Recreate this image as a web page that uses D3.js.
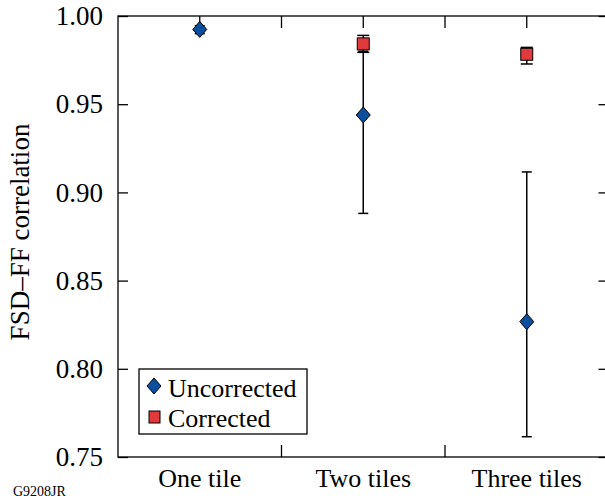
<!DOCTYPE html>
<html>
<head>
<meta charset="utf-8">
<script src="https://cdn.jsdelivr.net/npm/d3@7"></script>
<style>
  body { margin: 0; background: #fff; }
  text { font-family: "Liberation Serif", "DejaVu Serif", serif; fill: #000; }
</style>
</head>
<body>
<svg id="chart" width="605" height="500"></svg>
<script>
// data
var categories = ["One tile", "Two tiles", "Three tiles"];
var uncorrected = [0.9924, 0.9439, 0.8267];
var uncorrectedLow = [0.9900, 0.8881, 0.7615];
var uncorrectedHigh = [0.9945, 0.9800, 0.9116];
// corrected is not shown for one tile
var correctedCats = ["Two tiles", "Three tiles"];
var corrected = [0.9842, 0.9783];
var correctedLow = [0.9794, 0.9728];
var correctedHigh = [0.9890, 0.9822];
var yTicks = [0.75, 0.80, 0.85, 0.90, 0.95, 1.00];

var blue = "#0b4f9e";
var red = "#e2393d";

var plotL = 118, plotR = 608.5, plotT = 16, plotB = 457;

var svg = d3.select("#chart");

var x = d3.scalePoint()
    .domain(categories)
    .range([plotL, plotR])
    .padding(0.5);
var step = x.step();
var bounds = categories.slice(1).map(function(c) { return x(c) - step / 2; });

var y = d3.scaleLinear()
    .domain([0.75, 1.00])
    .range([plotB, plotT]);

// frame
svg.append("rect")
    .attr("x", plotL).attr("y", plotT)
    .attr("width", plotR - plotL).attr("height", plotB - plotT)
    .attr("fill", "none").attr("stroke", "#000").attr("stroke-width", 1.3);

// y axes (left with labels, right ticks only)
var yLeft = svg.append("g")
    .attr("transform", "translate(" + plotL + ",0)")
    .call(d3.axisRight(y).tickValues(yTicks).tickSize(10).tickFormat(""));
yLeft.select(".domain").remove();
yLeft.selectAll("line").attr("stroke-width", 1.3);

var yRight = svg.append("g")
    .attr("transform", "translate(" + plotR + ",0)")
    .call(d3.axisLeft(y).tickValues(yTicks).tickSize(10).tickFormat(""));
yRight.select(".domain").remove();
yRight.selectAll("line").attr("stroke-width", 1.3);

svg.append("g").selectAll("text")
    .data(yTicks)
    .enter().append("text")
    .attr("x", 103)
    .attr("y", function(d) { return y(d); })
    .attr("dy", "0.34em")
    .attr("text-anchor", "end")
    .attr("font-size", 27)
    .text(function(d) { return d3.format(".2f")(d); });

// x ticks: top at centres and boundaries, bottom at boundaries
var topTicks = categories.map(function(c) { return x(c); }).concat(bounds);
svg.append("g").selectAll("line")
    .data(topTicks)
    .enter().append("line")
    .attr("x1", function(d) { return d; }).attr("x2", function(d) { return d; })
    .attr("y1", plotT).attr("y2", plotT + 12)
    .attr("stroke", "#000").attr("stroke-width", 1.3);
svg.append("g").selectAll("line")
    .data(bounds)
    .enter().append("line")
    .attr("x1", function(d) { return d; }).attr("x2", function(d) { return d; })
    .attr("y1", plotB).attr("y2", plotB - 12)
    .attr("stroke", "#000").attr("stroke-width", 1.3);

svg.append("g").selectAll("text")
    .data(categories)
    .enter().append("text")
    .attr("x", function(d) { return x(d); })
    .attr("y", 487)
    .attr("text-anchor", "middle")
    .attr("font-size", 26)
    .text(function(d) { return d; });

// y label
svg.append("text")
    .attr("transform", "translate(29,232) rotate(-90)")
    .attr("text-anchor", "middle")
    .attr("font-size", 27)
    .text("FSD\u2013FF correlation");

svg.append("text")
    .attr("x", 13).attr("y", 496)
    .attr("font-size", 14)
    .text("G9208JR");

// error bars
function errorBars(cats, lo, hi, capHalf) {
    var g = svg.append("g").attr("stroke", "#000").attr("stroke-width", 1.5);
    cats.forEach(function(c, i) {
        var cx = x(c);
        g.append("line").attr("x1", cx).attr("x2", cx).attr("y1", y(lo[i])).attr("y2", y(hi[i]));
        g.append("line").attr("x1", cx - capHalf).attr("x2", cx + capHalf).attr("y1", y(lo[i])).attr("y2", y(lo[i]));
        g.append("line").attr("x1", cx - capHalf).attr("x2", cx + capHalf).attr("y1", y(hi[i])).attr("y2", y(hi[i]));
    });
}
errorBars(categories, uncorrectedLow, uncorrectedHigh, 5);
errorBars(correctedCats, correctedLow, correctedHigh, 6);

var diamond = "M0,-8L7,0L0,8L-7,0Z";

svg.append("g").selectAll("path")
    .data(uncorrected)
    .enter().append("path")
    .attr("transform", function(d, i) { return "translate(" + x(categories[i]) + "," + y(d) + ")"; })
    .attr("d", diamond)
    .attr("fill", blue).attr("stroke", "#000").attr("stroke-width", 1);

svg.append("g").selectAll("rect")
    .data(corrected)
    .enter().append("rect")
    .attr("x", function(d, i) { return x(correctedCats[i]) - 6; })
    .attr("y", function(d) { return y(d) - 6; })
    .attr("width", 12).attr("height", 12)
    .attr("fill", red).attr("stroke", "#000").attr("stroke-width", 1);

// legend
var lg = svg.append("g");
lg.append("rect")
    .attr("x", 139).attr("y", 369).attr("width", 168).attr("height", 65)
    .attr("fill", "#fff").attr("stroke", "#000").attr("stroke-width", 1.3);
lg.append("path")
    .attr("transform", "translate(154,386)")
    .attr("d", diamond)
    .attr("fill", blue).attr("stroke", "#000").attr("stroke-width", 1);
lg.append("rect")
    .attr("x", 149).attr("y", 411).attr("width", 11).attr("height", 12)
    .attr("fill", red).attr("stroke", "#000").attr("stroke-width", 1);
lg.append("text").attr("x", 168).attr("y", 397).attr("font-size", 26).text("Uncorrected");
lg.append("text").attr("x", 168).attr("y", 427).attr("font-size", 26).text("Corrected");
</script>
</body>
</html>
